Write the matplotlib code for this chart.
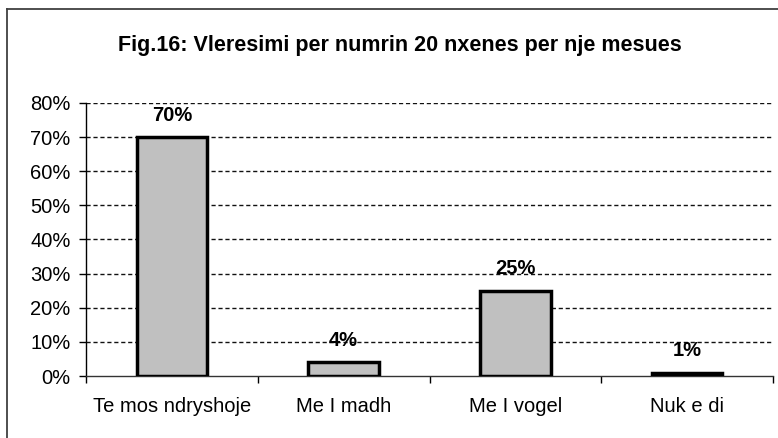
import matplotlib.pyplot as plt
from matplotlib.lines import Line2D
from matplotlib.ticker import FixedLocator

plt.rcParams['font.family'] = ['Liberation Sans', 'DejaVu Sans']

# te dhenat
kategorite = ["Te mos ndryshoje", "Me I madh", "Me I vogel", "Nuk e di"]
vlerat = [70, 4, 25, 1]
etiketat = ["70%", "4%", "25%", "1%"]
y_ticks = [0, 10, 20, 30, 40, 50, 60, 70, 80]

fig = plt.figure(figsize=(7.78, 4.38), dpi=100)
ax = fig.add_axes([86 / 778, 1 - 376 / 438, (773 - 86) / 778, (376 - 103) / 438])

# korniza e figures (vetem majtas dhe lart duken)
fig.add_artist(Line2D([7 / 778, 7 / 778], [0, 1 - 9 / 438], transform=fig.transFigure,
                      color="#404040", lw=1.3))
fig.add_artist(Line2D([7 / 778, 1], [1 - 9 / 438, 1 - 9 / 438], transform=fig.transFigure,
                      color="#404040", lw=1.3))

x = range(len(kategorite))
ax.bar(x, vlerat, width=0.41, color="#C0C0C0", edgecolor="black", linewidth=2.5, zorder=3)

for xi, v, t in zip(x, vlerat, etiketat):
    ax.annotate(t, (xi, v), xytext=(0, 9), textcoords="offset points",
                ha="center", va="bottom", fontsize=14.5, fontweight="bold", zorder=4)

ax.set_xlim(-0.5, 3.5)
ax.set_ylim(0, 80)
ax.set_yticks(y_ticks)
ax.set_yticklabels([f"{t}%" for t in y_ticks], fontsize=14.5)
ax.set_xticks(list(x))
ax.set_xticklabels(kategorite, fontsize=14.5)
ax.xaxis.set_minor_locator(FixedLocator([-0.5, 0.5, 1.5, 2.5, 3.5]))
ax.tick_params(axis="x", which="major", length=0, pad=15)
ax.tick_params(axis="x", which="minor", length=5, width=1, direction="out")
ax.tick_params(axis="y", length=5, width=1, direction="out", pad=6)

for y in y_ticks[1:]:
    ax.axhline(y, color="#111111", lw=1.0, ls=(0, (3, 2)), zorder=1)

for s in ["top", "right"]:
    ax.spines[s].set_visible(False)
ax.spines["left"].set_linewidth(1)
ax.spines["bottom"].set_linewidth(1)
ax.spines["bottom"].set_color("#333333")

fig.text(400 / 778, 1 - 46 / 438, "Fig.16: Vleresimi per numrin 20 nxenes per nje mesues",
         ha="center", va="center", fontsize=15.5, fontweight="bold")

fig.savefig("out.png", dpi=100)
